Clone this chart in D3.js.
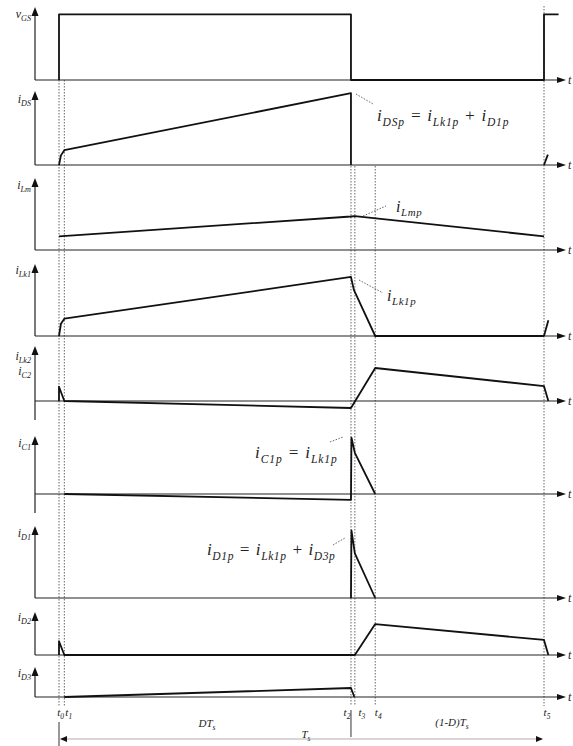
<!DOCTYPE html>
<html><head><meta charset="utf-8">
<script src="https://cdn.jsdelivr.net/npm/d3@7"></script>
<style>body{margin:0;background:#fff}svg{display:block}</style>
</head><body>
<script>
// ---- time instants (fraction of Ts) ----
const times = {t0:0, t1:0.011, t2:0.602, t3:0.610, t4:0.652, t5:1.0};
const timeLabels = [["t","0",0],["t","1",0.011],["t","2",0.602],["t","3",0.610],["t","4",0.652],["t","5",1.0]];

// ---- waveforms [time, value (fraction of panel height)] ----
const vGS  = [[0,0],[0,0.9],[0.602,0.9],[0.602,0],[1.0,0],[1.0,0.9],[1.03,0.9]];
const iDS  = [[0,0],[0.004,0.13],[0.011,0.2],[0.602,0.97],[0.602,0]];
const iDS2 = [[1.0,0],[1.008,0.14]];
const iLm  = [[0,0.19],[0.602,0.465],[0.610,0.47],[1.0,0.19]];
const iLk1 = [[0,0],[0.004,0.17],[0.011,0.24],[0.602,0.82],[0.608,0.64],[0.652,0],[1.0,0]];
const iLk1b= [[1.0,0],[1.009,0.22]];
const iLk2 = [[0,0],[0,0.26],[0.011,0],[0.602,-0.127],[0.652,0.6],[1.0,0.27],[1.009,0]];
const iC1  = [[0.011,0],[0.602,-0.1],[0.603,0.97],[0.610,0.71],[0.652,0]];
const iD1  = [[0.602,0],[0.603,0.94],[0.610,0.62],[0.652,0]];
const iD2  = [[0,0],[0,0.32],[0.011,0],[0.610,0],[0.652,0.72],[1.0,0.35],[1.009,0]];
const iD3  = [[0.011,0],[0.602,0.3],[0.609,0]];

const panelNames = ["vGS","iDS","iLm","iLk1","iLk2","iC1","iD1","iD2","iD3"];
const panelLabels = [[["v","GS"]],[["i","DS"]],[["i","Lm"]],[["i","Lk1"]],[["i","Lk2"],["i","C2"]],[["i","C1"]],[["i","D1"]],[["i","D2"]],[["i","D3"]]];
const panelSeries = [[vGS],[iDS,iDS2],[iLm],[iLk1,iLk1b],[iLk2],[iC1],[iD1],[iD2],[iD3]];

// ---- layout ----
const W=573,H=746, AX=35, AXEND=566;
const layout = [
 {base:80, top:7,  lab:18},
 {base:165,top:91, lab:103},
 {base:250,top:178,lab:189},
 {base:336,top:264,lab:274},
 {base:401,top:346,lab:360, bottom:420},
 {base:494,top:436,lab:447, bottom:513},
 {base:598,top:526,lab:537},
 {base:655,top:612,lab:621},
 {base:697,top:667,lab:677}
];

const svg = d3.select("body").append("svg").attr("width",W).attr("height",H);
const x = d3.scaleLinear().domain([0,1]).range([59,544]);
const SERIF = "'Liberation Serif','DejaVu Serif',serif";

// parts: strings (normal) or [main, sub]
function label(sel, parts, px, py, size, anchor, spacing){
  const t = sel.append("text").attr("x",px).attr("y",py)
    .attr("font-family",SERIF).attr("font-style","italic").attr("font-size",size)
    .attr("text-anchor",anchor||"start").attr("fill","#222")
    .attr("letter-spacing",spacing||0).attr("xml:space","preserve");
  let lowered = false;
  const sh = size*0.28;
  parts.forEach(p=>{
    const main = typeof p==="string" ? p : p[0];
    const ts = t.append("tspan").attr("font-size",size).text(main);
    if(lowered){ ts.attr("dy",-sh); lowered=false; }
    if(typeof p!=="string" && p[1]){
      t.append("tspan").attr("font-size",size*0.68).attr("dy",sh).text(p[1]);
      lowered = true;
    }
  });
  return t;
}

// dashed time guides
const guides = [[times.t0,80],[times.t1,80],[times.t2,166],[times.t3,166],[times.t4,166],[times.t5,6]];
guides.forEach(([t,y0])=>{
  svg.append("line").attr("x1",x(t)).attr("x2",x(t)).attr("y1",y0).attr("y2",706)
    .attr("stroke","#555").attr("stroke-width",0.9).attr("stroke-dasharray","1.5,1.5");
});

layout.forEach((L,i)=>{
  const y = d3.scaleLinear().domain([0,1]).range([L.base,L.top]);
  const g = svg.append("g");
  g.append("line").attr("x1",AX).attr("x2",AX).attr("y1",L.bottom||L.base).attr("y2",L.top+6)
    .attr("stroke","#222").attr("stroke-width",1.2);
  g.append("path").attr("d",`M${AX-3.5},${L.top+9}L${AX},${L.top}L${AX+3.5},${L.top+9}Z`).attr("fill","#111");
  g.append("line").attr("x1",AX).attr("x2",AXEND-6).attr("y1",L.base).attr("y2",L.base)
    .attr("stroke","#222").attr("stroke-width",1.2);
  g.append("path").attr("d",`M${AXEND-9},${L.base-3}L${AXEND},${L.base}L${AXEND-9},${L.base+3}Z`).attr("fill","#111");
  label(g,["t"],AXEND+2,L.base+4,12);
  panelLabels[i].forEach((lb,k)=>label(g,[lb],31,L.lab+k*15,12,"end"));
  const line = d3.line().x(d=>x(d[0])).y(d=>y(d[1]));
  panelSeries[i].forEach(s=>{
    g.append("path").attr("d",line(s)).attr("fill","none").attr("stroke","#111")
      .attr("stroke-width",1.8).attr("stroke-linejoin","round");
  });
});

// annotations
function leader(pts){
  svg.append("path").attr("d",d3.line()(pts)).attr("fill","none").attr("stroke","#555")
    .attr("stroke-width",0.9).attr("stroke-dasharray","1.5,1.5");
}
leader([[356,94],[373,104]]);
label(svg,[["i","DSp"]," = ",["i","Lk1p"]," + ",["i","D1p"]],377,121,17,"start",0.8);
leader([[363,216],[386,206]]);
label(svg,[["i","Lmp"]],396,212,16,"start",0.6);
leader([[359,280],[383,293]]);
label(svg,[["i","Lk1p"]],387,301,16,"start",0.6);
leader([[330,442],[343,437]]);
label(svg,[["i","C1p"]," = ",["i","Lk1p"]],255,458,17,"start",0.9);
leader([[333,545],[345,538]]);
label(svg,[["i","D1p"]," = ",["i","Lk1p"]," + ",["i","D3p"]],207,555,17,"start",0.6);

// time labels
const offs = [[5,"end"],[1,"start"],[-4,"middle"],[7,"middle"],[3,"middle"],[3,"middle"]];
timeLabels.forEach(([a,b,t],k)=>{
  label(svg,[[a,b]],x(t)+offs[k][0],716,11,offs[k][1]);
});
label(svg,[["DT","s"]],207,727,11,"middle");
label(svg,["(1-",["D)T","s"]],452,726,11,"middle");
label(svg,[["T","s"]],306,738,11,"middle");

// Ts dimension line
svg.append("line").attr("x1",x(0)).attr("x2",x(0)).attr("y1",722).attr("y2",746).attr("stroke","#333").attr("stroke-width",1);
svg.append("line").attr("x1",x(times.t2)).attr("x2",x(times.t2)).attr("y1",710).attr("y2",737).attr("stroke","#333").attr("stroke-width",1);
svg.append("line").attr("x1",x(0)+2).attr("x2",x(1)-2).attr("y1",739).attr("y2",739).attr("stroke","#999").attr("stroke-width",0.8);
svg.append("path").attr("d",`M${x(0)+1},739L${x(0)+8},736L${x(0)+8},742Z`).attr("fill","#111");
svg.append("path").attr("d",`M${x(1)-1},739L${x(1)-8},736L${x(1)-8},742Z`).attr("fill","#111");
</script>
</body></html>
